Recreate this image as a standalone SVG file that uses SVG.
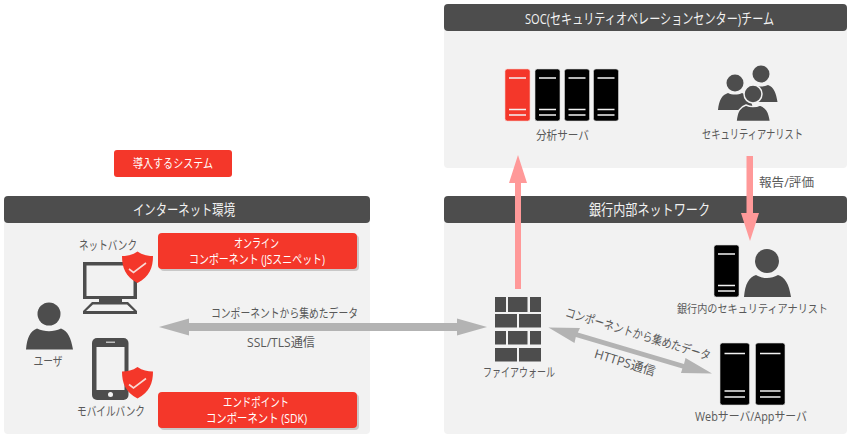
<svg xmlns="http://www.w3.org/2000/svg" width="850" height="438" viewBox="0 0 850 438">
<style>
text{font-family:"Open Sans","Noto Sans CJK JP",sans-serif;text-anchor:middle;dominant-baseline:central}
.l{font-size:12.5px;fill:#595959}
.h{font-size:14.500px;fill:#f2f2f2}
.w{font-size:12px;fill:#fff}
.panel{fill:#f2f2f2}
.head{fill:#4d4d4d}
.dk{fill:#4d4d4d}
.red{fill:#f4372a}
.btnsh{fill:#c8c8c8}
.srv{fill:#000;stroke:#d9d9d9;stroke-width:.6}
.sl{stroke:#f2f2f2;stroke-width:1.7}
.tick{fill:none;stroke:#f9d9d4;stroke-width:1.6}
</style>
<defs>
<g id="shield"><path class="red" d="M0 0C-5 3.500-10 4.500-15.500 4.500C-15.500 16-12 25-0 31.500C12 25 15.500 16 15.500 4.500C10 4.500 5 3.500 0 0Z"/><path class="tick" d="M-8.500 17.500L-4 21L8.500 11.500"/></g>
<g id="s1"><rect class="srv" x="0" y="0" width="25" height="52" rx="2.500"/><path class="sl" d="M4 9H21M4 40.500H21M4 46H21"/></g>
<g id="s2"><rect class="srv" x="0" y="0" width="29.500" height="62" rx="2.500"/><path class="sl" d="M4.500 10.500H25M4.500 48H25M4.500 54H25"/></g>
</defs>

<g id="panel-internet"><rect class="panel" x="4" y="196" width="366" height="238" rx="4"/><rect class="head" x="4" y="196" width="366" height="27" rx="4"/><text class="h" x="184" y="209.500" textLength="102" lengthAdjust="spacingAndGlyphs">インターネット環境</text></g>
<g id="panel-bank"><rect class="panel" x="444" y="196" width="403" height="238" rx="4"/><rect class="head" x="444" y="196" width="403" height="27" rx="4"/><text class="h" x="649.500" y="209.500" textLength="121" lengthAdjust="spacingAndGlyphs">銀行内部ネットワーク</text></g>
<g id="panel-soc"><rect class="panel" x="444" y="4" width="403" height="164" rx="4"/><rect class="head" x="444" y="4" width="403" height="27" rx="4"/><text class="h" x="649.500" y="18" textLength="249" lengthAdjust="spacingAndGlyphs">SOC(セキュリティオペレーションセンター)チーム</text></g>

<g id="legend"><rect class="red" x="114" y="150" width="118" height="27" rx="3"/><text class="w" x="173" y="163.500" textLength="80" lengthAdjust="spacingAndGlyphs">導入するシステム</text></g>

<g id="user"><circle class="dk" cx="49" cy="314" r="11.500"/><path class="dk" d="M26 349.500C27 338 30 331 37 328.500C45 332 53 332 61 328.500C68 331 71 338 73 349.500Z"/><text class="l" x="48" y="361" textLength="29" lengthAdjust="spacingAndGlyphs">ユーザ</text></g>

<g id="netbank"><text class="l" x="108" y="245" textLength="58" lengthAdjust="spacingAndGlyphs">ネットバンク</text>
<path class="dk" fill-rule="evenodd" d="M83 262H137V299H83ZM86.500 265.500V296H133.500V265.500Z"/><path class="dk" d="M99 299H122V304H99ZM92 302H128L137 311V314H83V311ZM86 311H134L127 304.500H93Z"/>
<use href="#shield" x="137.500" y="251.500"/></g>

<g id="mobilebank"><rect class="dk" x="92" y="338" width="36.500" height="62" rx="5"/><rect x="96.500" y="347" width="28" height="43" fill="#f2f2f2"/><rect x="106" y="341.500" width="9" height="1.500" fill="#bfbfbf"/><circle cx="110.500" cy="394.500" r="2.500" fill="#f2f2f2"/>
<use href="#shield" x="137.500" y="367"/><text class="l" x="111" y="411.500" textLength="68" lengthAdjust="spacingAndGlyphs">モバイルバンク</text></g>

<g id="online-component"><rect class="btnsh" x="160" y="235" width="199" height="36" rx="4"/><rect class="red" x="158" y="233" width="199" height="36" rx="4"/><text class="w" x="256.500" y="243" textLength="45" lengthAdjust="spacingAndGlyphs">オンライン</text><text class="w" x="257" y="259" textLength="136" lengthAdjust="spacingAndGlyphs">コンポーネント (JSスニペット)</text></g>
<g id="endpoint-component"><rect class="btnsh" x="160" y="394" width="199" height="36" rx="4"/><rect class="red" x="158" y="392" width="199" height="36" rx="4"/><text class="w" x="256" y="402" textLength="66" lengthAdjust="spacingAndGlyphs">エンドポイント</text><text class="w" x="256.500" y="418" textLength="101" lengthAdjust="spacingAndGlyphs">コンポーネント (SDK)</text></g>

<g id="analysis-servers"><rect x="505" y="69" width="25" height="52" rx="2.500" class="red" stroke="#f9c9c4" stroke-width=".6"/><path class="sl" d="M509 78H526M509 109.500H526M509 115H526"/><use href="#s1" x="535" y="69"/><use href="#s1" x="564.500" y="69"/><use href="#s1" x="593.500" y="69"/><text class="l" x="562.500" y="135" textLength="53" lengthAdjust="spacingAndGlyphs">分析サーバ</text></g>

<g id="soc-analysts">
<circle class="dk" cx="761" cy="74" r="8.500"/><path class="dk" d="M745 102C746 92 749 87 754 85C758 87 764 87 768 85C774 87 776 93 777.500 102Z"/><circle class="dk" cx="735" cy="83" r="8.500"/><path class="dk" d="M718 110C719 100 722 95 728 93C732 95 738 95 742 93C748 95 752 100 753 110Z"/>
<g stroke="#f2f2f2" stroke-width="1.500"><circle class="dk" cx="753" cy="94" r="9"/><path class="dk" d="M736 121.500C737 111 740 107 746 105C750 107 756 107 760 105C766 107 769 111 770.500 121.500Z"/></g>
<text class="l" x="752.500" y="134" textLength="101" lengthAdjust="spacingAndGlyphs">セキュリティアナリスト</text></g>

<g id="bank-analyst"><use href="#s1" x="714" y="245"/><circle class="dk" cx="767" cy="261" r="12"/><path class="dk" d="M744 297C745 284 749 277 756 275C763 279 771 279 778 275C785 277 789 284 791 297Z"/><text class="l" style="font-size:11.5px" x="752.500" y="308.500" textLength="151" lengthAdjust="spacingAndGlyphs">銀行内のセキュリティアナリスト</text></g>

<g id="firewall"><path class="dk" d="M495 297H506V312H495ZM508 297H527.500V312H508ZM530 297H541V312H530ZM495 314H517V327.500H495ZM519 314H541V327.500H519ZM495 331H506V344.500H495ZM508 331H527.500V344.500H508ZM530 331H541V344.500H530ZM495 348H517V361.500H495ZM519 348H541V361.500H519Z"/><text class="l" x="519" y="372.500" textLength="72" lengthAdjust="spacingAndGlyphs">ファイアウォール</text></g>

<g id="web-servers"><use href="#s2" x="720" y="343"/><use href="#s2" x="755.500" y="343"/><text class="l" x="751" y="416" textLength="112" lengthAdjust="spacingAndGlyphs">Webサーバ/Appサーバ</text></g>

<g id="connectors">
<path fill="#b3b3b3" d="M159 327L189 318.500V323H457V318.500L487 327L457 335.500V331H189V335.500Z"/>
<path fill="#b3b3b3" d="M548.500 327.500L580 328L577.800 332.400L684 364L685.500 358L712 373.500L681 373L682.400 368.600L575.800 337L574.500 343Z"/>
<path fill="#ff9999" d="M515 289V183H509L518 155L527 183H521V289Z"/>
<path fill="#ff9999" d="M746.500 156V213H741L750 241L759 213H753V156Z"/>
</g>
<g id="connector-labels">
<text class="l" x="284.500" y="313" textLength="147" lengthAdjust="spacingAndGlyphs">コンポーネントから集めたデータ</text>
<text class="l" x="281" y="342" textLength="68" lengthAdjust="spacingAndGlyphs">SSL/TLS通信</text>
<text class="l" transform="translate(638 334) rotate(17)" textLength="151" lengthAdjust="spacingAndGlyphs">コンポーネントから集めたデータ</text>
<text class="l" transform="translate(625 362.500) rotate(17)" textLength="63" lengthAdjust="spacingAndGlyphs">HTTPS通信</text>
<text class="l" x="786.500" y="182" textLength="55" lengthAdjust="spacingAndGlyphs">報告/評価</text>
</g>
</svg>
